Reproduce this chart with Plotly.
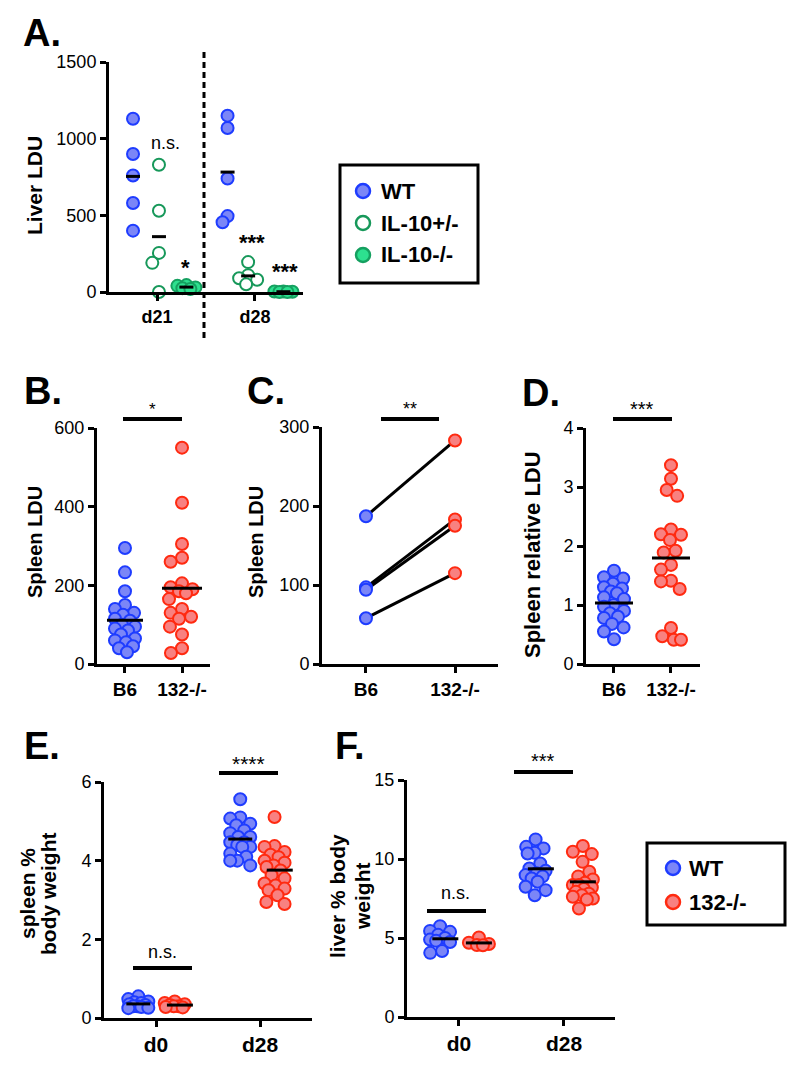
import numpy as np
import plotly.graph_objects as go

# ---------------- DATA ----------------
A_CATS = ["d21", "d28"]
A_WT = [[1130, 900, 760, 580, 400], [1150, 1070, 740, 495, 455]]
A_HET = [[830, 530, 255, 190, 0], [195, 110, 90, 80, 50]]
A_KO = [[45, 40, 30, 25, 20], [4, 3, 2, 0, 0]]
A_YTICKS = [0, 500, 1000, 1500]
A_LEGEND = ["WT", "IL-10+/-", "IL-10-/-"]

B_CATS = ["B6", "132-/-"]
B_B6 = [295, 233, 185, 150, 140, 130, 125, 115, 110, 100, 95, 90, 85, 75, 65, 60, 55, 45, 40, 30]
B_KO = [550, 410, 305, 270, 260, 205, 195, 190, 185, 180, 165, 140, 130, 120, 115, 95, 75, 40, 28]
B_YTICKS = [0, 200, 400, 600]

C_B6 = [187, 97, 94, 58]
C_KO = [283, 183, 175, 115]
C_YTICKS = [0, 100, 200, 300]

D_B6 = [1.58, 1.47, 1.45, 1.36, 1.3, 1.28, 1.23, 1.2, 1.13, 1.1, 1.0, 0.97, 0.9, 0.86, 0.8, 0.78, 0.68, 0.62, 0.55, 0.42]
D_KO = [3.37, 3.14, 2.95, 2.85, 2.28, 2.2, 2.19, 2.1, 1.92, 1.89, 1.68, 1.6, 1.41, 1.4, 1.27, 0.61, 0.47, 0.41, 0.41]
D_YTICKS = [0, 1, 2, 3, 4]

E_CATS = ["d0", "d28"]
E_WT = [[0.55, 0.48, 0.42, 0.4, 0.38, 0.35, 0.33, 0.3, 0.3, 0.28, 0.26, 0.25],
        [5.56, 5.1, 5.07, 4.94, 4.9, 4.77, 4.7, 4.6, 4.6, 4.47, 4.47, 4.4, 4.35, 4.35, 4.18, 4.1, 4.0, 4.0, 3.88]]
E_KO = [[0.42, 0.38, 0.35, 0.33, 0.3, 0.3, 0.28, 0.27],
        [5.11, 4.37, 4.35, 4.22, 4.15, 4.09, 4.0, 3.95, 3.88, 3.84, 3.75, 3.63, 3.55, 3.42, 3.37, 3.29, 3.25, 3.12, 2.95, 2.9]]
E_YTICKS = [0, 2, 4, 6]

F_CATS = ["d0", "d28"]
F_WT = [[5.75, 5.45, 5.39, 5.2, 5.0, 4.9, 4.82, 4.75, 4.18, 4.06],
        [11.24, 10.77, 10.67, 10.39, 10.35, 9.72, 9.4, 9.25, 9.1, 8.98, 8.9, 8.77, 8.56, 8.24, 8.03, 7.71]]
F_KO = [[5.03, 4.7, 4.62, 4.55, 4.54],
        [10.82, 10.46, 10.31, 9.82, 9.19, 8.9, 8.7, 8.49, 8.35, 8.35, 8.2, 8.1, 7.92, 7.8, 7.7, 7.61, 7.5, 7.44, 6.87]]
F_YTICKS = [0, 5, 10, 15]
F_LEGEND = ["WT", "132-/-"]

# ---------------- STYLE ----------------
W, H = 800, 1068
FONT = "Arial, Liberation Sans, Helvetica, sans-serif"
BLUE_FILL, BLUE_EDGE = "#7b86f7", "#1e3cff"
RED_FILL, RED_EDGE = "#f88181", "#ff2a10"
GREEN_FILL, GREEN_EDGE = "#2de08f", "#15a060"
OPEN_EDGE = "#17985a"
MSIZE = 12


def pxx(x):
    return x / W


def pyy(y):
    return 1 - y / H


PANELS = {
    "A": dict(ax="", x0=109, x1=303, yt=62, yb=292, xr=[-0.49, 1.49], yr=[0, 1500]),
    "B": dict(ax="2", x0=97, x1=210, yt=428, yb=664, xr=[-0.491, 1.491], yr=[0, 600]),
    "C": dict(ax="3", x0=322, x1=498, yt=427, yb=664, xr=[-0.494, 1.483], yr=[0, 300]),
    "D": dict(ax="4", x0=586, x1=700, yt=428, yb=664, xr=[-0.491, 1.509], yr=[0, 4]),
    "E": dict(ax="5", x0=104, x1=312, yt=782, yb=1018, xr=[-0.5, 1.5], yr=[0, 6]),
    "F": dict(ax="6", x0=407, x1=615, yt=780, yb=1017, xr=[-0.495, 1.486], yr=[0, 15]),
}


def scales(p):
    g = PANELS[p]
    ppx = (g["x1"] - g["x0"]) / (g["xr"][1] - g["xr"][0])
    ppy = (g["yb"] - g["yt"]) / (g["yr"][1] - g["yr"][0])
    return ppx, ppy


def swarm(vals, center, ppx, ppy, cap=9.0, d=12.0):
    """Deterministic column-scatter placement (pixel space), capped width."""
    vals = np.asarray(vals, dtype=float)
    order = np.argsort(-vals, kind="stable")
    placed = []
    xs = np.zeros(len(vals))
    grid = np.linspace(-cap, cap, int(2 * cap) + 1)
    for i in order:
        y = vals[i] * ppy
        cands = [0.0]
        for (qx, qy) in placed:
            dy = abs(qy - y)
            if dy < d:
                dx = np.sqrt(d * d - dy * dy)
                cands += [qx + dx, qx - dx]
        valid = [c for c in cands if abs(c) <= cap + 1e-9 and
                 all((c - qx) ** 2 + (y - qy) ** 2 >= d * d - 1e-6 for qx, qy in placed)]
        if valid:
            chosen = min(valid, key=lambda c: (abs(c), c))
        else:
            best, chosen = -1, 0.0
            for c in sorted(grid, key=lambda c: (abs(c), c)):
                md = min(np.hypot(c - qx, y - qy) for qx, qy in placed)
                if md > best + 1e-6:
                    best, chosen = md, c
        placed.append((chosen, y))
        xs[i] = center + chosen / ppx
    return xs


fig = go.Figure()


def add_group(p, vals, center, fill, edge, cap=9.0):
    g = PANELS[p]
    ppx, ppy = scales(p)
    xs = swarm(vals, center, ppx, ppy, cap)
    fig.add_trace(go.Scatter(
        x=xs, y=vals, mode="markers",
        marker=dict(size=MSIZE, color=fill, line=dict(color=edge, width=2)),
        xaxis="x" + g["ax"], yaxis="y" + g["ax"], cliponaxis=False,
        showlegend=False, hoverinfo="skip"))


def add_mean(p, vals, center, hw_px):
    g = PANELS[p]
    ppx, ppy = scales(p)
    m = float(np.mean(vals))
    hw = hw_px / ppx
    fig.add_trace(go.Scatter(
        x=[center - hw, center + hw], y=[m, m], mode="lines",
        line=dict(color="black", width=3), xaxis="x" + g["ax"], yaxis="y" + g["ax"],
        showlegend=False, cliponaxis=False, hoverinfo="skip"))


# ---- Panel A ----
A_OFFS = [[-0.245, 0.02, 0.30], [-0.28, -0.07, 0.29]]
for ci in range(len(A_CATS)):
    o = A_OFFS[ci]
    add_group("A", A_WT[ci], ci + o[0], BLUE_FILL, BLUE_EDGE, cap=5)
    add_group("A", A_HET[ci], ci + o[1], "white", OPEN_EDGE, cap=9)
    add_group("A", A_KO[ci], ci + o[2], GREEN_FILL, GREEN_EDGE, cap=9)
for ci in range(len(A_CATS)):
    o = A_OFFS[ci]
    add_mean("A", A_WT[ci], ci + o[0], 7)
    add_mean("A", A_HET[ci], ci + o[1], 7)
    add_mean("A", A_KO[ci], ci + o[2], 7)

# ---- Panel B ----
add_group("B", B_B6, 0, BLUE_FILL, BLUE_EDGE, cap=10)
add_group("B", B_KO, 1, RED_FILL, RED_EDGE, cap=13)
add_mean("B", B_B6, 0, 18)
add_mean("B", B_KO, 1, 20)

# ---- Panel C ----
for b, k in zip(C_B6, C_KO):
    fig.add_trace(go.Scatter(x=[0, 1], y=[b, k], mode="lines", line=dict(color="black", width=3),
                             xaxis="x3", yaxis="y3", showlegend=False, hoverinfo="skip"))
fig.add_trace(go.Scatter(x=[0] * len(C_B6), y=C_B6, mode="markers",
                         marker=dict(size=MSIZE, color=BLUE_FILL, line=dict(color=BLUE_EDGE, width=2)),
                         xaxis="x3", yaxis="y3", showlegend=False, cliponaxis=False, hoverinfo="skip"))
fig.add_trace(go.Scatter(x=[1] * len(C_KO), y=C_KO, mode="markers",
                         marker=dict(size=MSIZE, color=RED_FILL, line=dict(color=RED_EDGE, width=2)),
                         xaxis="x3", yaxis="y3", showlegend=False, cliponaxis=False, hoverinfo="skip"))

# ---- Panel D ----
add_group("D", D_B6, 0, BLUE_FILL, BLUE_EDGE, cap=10)
add_group("D", D_KO, 1, RED_FILL, RED_EDGE, cap=10)
add_mean("D", D_B6, 0, 19)
add_mean("D", D_KO, 1, 19)

# ---- Panel E ----
E_OFFS = [[-0.17, 0.18], [-0.19, 0.14]]
for ci in range(len(E_CATS)):
    add_group("E", E_WT[ci], ci + E_OFFS[ci][0], BLUE_FILL, BLUE_EDGE, cap=10)
    add_group("E", E_KO[ci], ci + E_OFFS[ci][1], RED_FILL, RED_EDGE, cap=10)
for ci in range(len(E_CATS)):
    add_mean("E", E_WT[ci], ci + E_OFFS[ci][0], 12)
    add_mean("E", E_KO[ci], ci + E_OFFS[ci][1] + 0.05, 13)

# ---- Panel F ----
F_OFFS = [[-0.18, 0.19], [-0.27, 0.18]]
for ci in range(len(F_CATS)):
    add_group("F", F_WT[ci], ci + F_OFFS[ci][0], BLUE_FILL, BLUE_EDGE, cap=10)
    add_group("F", F_KO[ci], ci + F_OFFS[ci][1], RED_FILL, RED_EDGE, cap=10)
for ci in range(len(F_CATS)):
    add_mean("F", F_WT[ci], ci + F_OFFS[ci][0] + 0.05, 13)
    add_mean("F", F_KO[ci], ci + F_OFFS[ci][1], 13)

# ---------------- AXES ----------------
XLAB_SIZE = {"A": 18, "B": 19, "C": 19, "D": 19, "E": 21, "F": 21}
XCATS = {"A": A_CATS, "B": B_CATS, "C": B_CATS, "D": B_CATS, "E": E_CATS, "F": F_CATS}
YTICKS = {"A": A_YTICKS, "B": B_YTICKS, "C": C_YTICKS, "D": D_YTICKS, "E": E_YTICKS, "F": F_YTICKS}
layout_axes = {}
for p, g in PANELS.items():
    n = g["ax"]
    common = dict(showline=True, linecolor="black", linewidth=3, ticks="outside", ticklen=6,
                  tickwidth=3, tickcolor="black", showgrid=False, zeroline=False,
                  fixedrange=True, automargin=False)
    layout_axes["xaxis" + n] = dict(
        domain=[pxx(g["x0"]), pxx(g["x1"])], range=g["xr"], anchor="y" + n,
        tickvals=list(range(len(XCATS[p]))), ticktext=XCATS[p],
        tickfont=dict(size=XLAB_SIZE[p], weight="bold", family=FONT, color="black"), **common)
    layout_axes["yaxis" + n] = dict(
        domain=[pyy(g["yb"]), pyy(g["yt"])], range=g["yr"], anchor="x" + n,
        tickvals=YTICKS[p], tickfont=dict(size=18, family=FONT, color="black"), **common)

# ---------------- ANNOTATIONS / SHAPES ----------------
annotations = []
shapes = []


def text(t, x, y, size, bold=True, angle=0, xanchor="center"):
    annotations.append(dict(text=t, x=pxx(x), y=pyy(y), xref="paper", yref="paper",
                            showarrow=False, textangle=angle, xanchor=xanchor, yanchor="middle",
                            font=dict(size=size, family=FONT, color="black",
                                      weight="bold" if bold else "normal")))


for lab, x, y in [("A.", 42, 33), ("B.", 43, 391), ("C.", 266, 391), ("D.", 541, 393),
                  ("E.", 42, 746), ("F.", 350, 746)]:
    text(lab, x, y, 38)

text("Liver LDU", 35, 186, 21, angle=-90)
text("Spleen LDU", 35, 542, 20, angle=-90)
text("Spleen LDU", 256, 542, 20, angle=-90)
text("Spleen relative LDU", 532, 555, 22, angle=-90)
text("spleen %", 27, 894, 21, angle=-90)
text("body weight", 48, 894, 21, angle=-90)
text("liver % body", 337, 896, 21, angle=-90)
text("weight", 362, 896, 21, angle=-90)

# significance labels
text("n.s.", 165, 143, 18, bold=False)
text("*", 185, 268, 22)
text("***", 252, 243, 22)
text("***", 285, 272, 22)
text("*", 152, 409, 17, bold=False)
text("**", 410, 409, 18, bold=False)
text("***", 642, 409, 20, bold=False)
text("n.s.", 162, 952, 18, bold=False)
text("****", 248, 763, 21, bold=False)
text("n.s.", 456, 893, 18, bold=False)
text("***", 543, 761, 20, bold=False)

for x0, x1, y in [(123, 182, 419), (381, 439, 419), (613, 672, 419), (133, 192, 968),
                  (219, 278, 773), (427, 486, 911), (514, 573, 772)]:
    shapes.append(dict(type="line", xref="paper", yref="paper", x0=pxx(x0), x1=pxx(x1),
                       y0=pyy(y), y1=pyy(y), line=dict(color="black", width=4)))
# dashed separator in panel A
shapes.append(dict(type="line", xref="paper", yref="paper", x0=pxx(204), x1=pxx(204),
                   y0=pyy(52), y1=pyy(340), line=dict(color="black", width=3, dash="6px,4px")))


# legends (drawn as keys: box, circle glyphs, labels)
def legend_box(x0, y0, x1, y1, items, mx, tx, ys):
    shapes.append(dict(type="rect", xref="paper", yref="paper", x0=pxx(x0), x1=pxx(x1),
                       y0=pyy(y1), y1=pyy(y0), line=dict(color="black", width=3),
                       fillcolor="white", layer="below"))
    r = 7
    for (label, fill, edge), yy in zip(items, ys):
        shapes.append(dict(type="circle", xref="paper", yref="paper",
                           x0=pxx(mx - r), x1=pxx(mx + r), y0=pyy(yy + r), y1=pyy(yy - r),
                           fillcolor=fill, line=dict(color=edge, width=2.5)))
        text(label, tx, yy, 22, xanchor="left")


legend_box(340, 165, 478, 283,
           [(A_LEGEND[0], BLUE_FILL, BLUE_EDGE), (A_LEGEND[1], "white", OPEN_EDGE),
            (A_LEGEND[2], GREEN_FILL, GREEN_EDGE)], 363, 379, [191, 223, 255])
legend_box(647, 843, 785, 925,
           [(F_LEGEND[0], BLUE_FILL, BLUE_EDGE), (F_LEGEND[1], RED_FILL, RED_EDGE)],
           673, 687, [868, 902])

fig.update_layout(
    template="none",
    width=W, height=H, margin=dict(l=0, r=0, t=0, b=0, pad=0),
    paper_bgcolor="white", plot_bgcolor="rgba(0,0,0,0)",
    font=dict(family=FONT, color="black"),
    showlegend=False,
    annotations=annotations, shapes=shapes,
    **layout_axes,
)

fig.write_html("out.html", config={"displayModeBar": False, "staticPlot": True},
               post_script="document.body.style.margin='0';document.body.style.padding='0';")
